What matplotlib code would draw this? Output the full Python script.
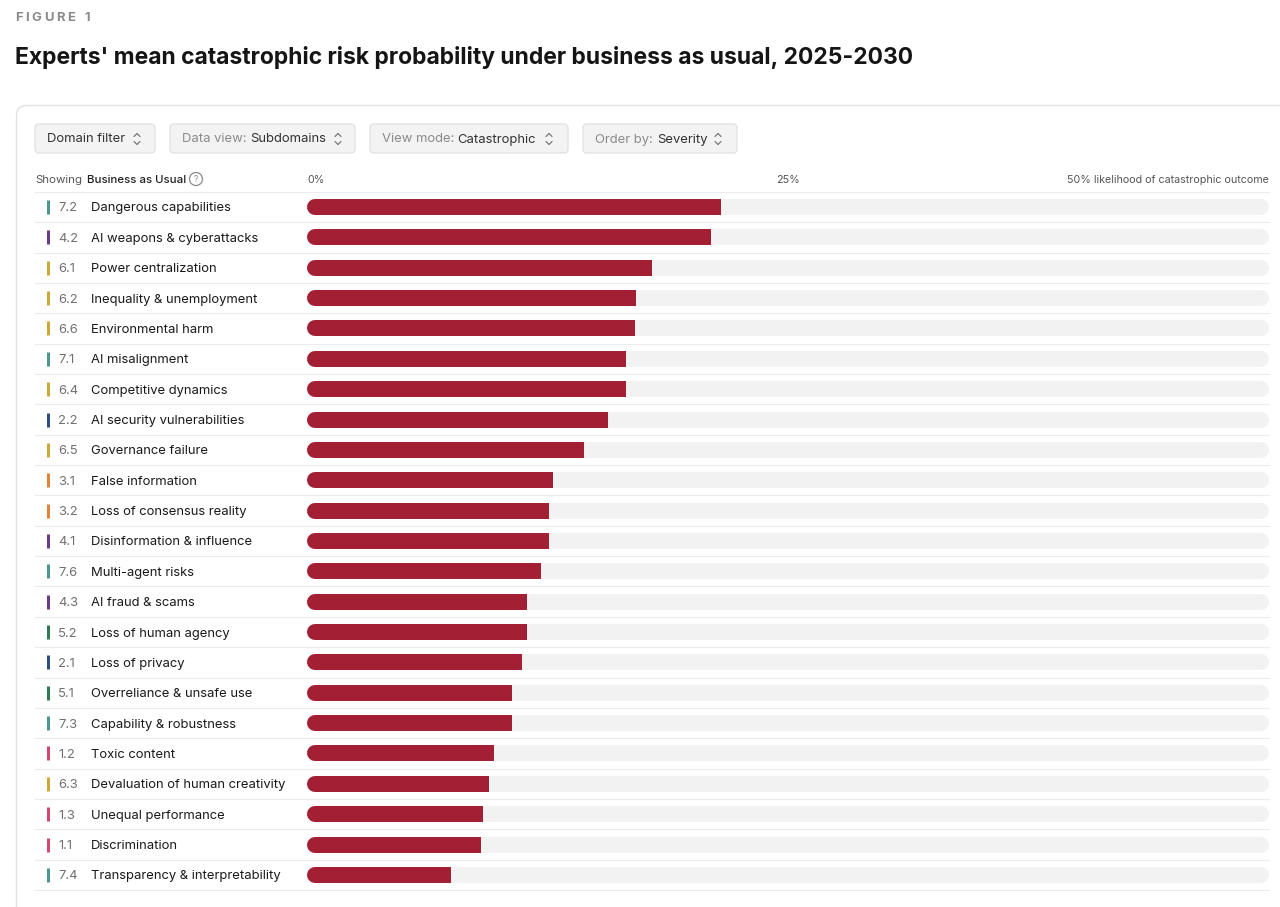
import matplotlib
matplotlib.use("Agg")
import matplotlib.pyplot as plt
import matplotlib.transforms as mtransforms
from matplotlib.patches import FancyBboxPatch, Circle

# ---------------- data ----------------
codes = ["7.2", "4.2", "6.1", "6.2", "6.6", "7.1", "6.4", "2.2", "6.5", "3.1", "3.2", "4.1",
         "7.6", "4.3", "5.2", "2.1", "5.1", "7.3", "1.2", "6.3", "1.3", "1.1", "7.4"]
names = ["Dangerous capabilities", "AI weapons & cyberattacks", "Power centralization",
         "Inequality & unemployment", "Environmental harm", "AI misalignment",
         "Competitive dynamics", "AI security vulnerabilities", "Governance failure",
         "False information", "Loss of consensus reality", "Disinformation & influence",
         "Multi-agent risks", "AI fraud & scams", "Loss of human agency", "Loss of privacy",
         "Overreliance & unsafe use", "Capability & robustness", "Toxic content",
         "Devaluation of human creativity", "Unequal performance", "Discrimination",
         "Transparency & interpretability"]
values = [21.5, 21.0, 17.95, 17.1, 17.05, 16.6, 16.6, 15.65, 14.4, 12.8, 12.6, 12.6,
          12.15, 11.45, 11.45, 11.15, 10.65, 10.65, 9.7, 9.45, 9.15, 9.05, 7.5]
x_max = 50
tick_labels = ["0%", "25%", "50% likelihood of catastrophic outcome"]
domain_colors = {"1": "#d4456f", "2": "#2c4f7f", "3": "#e0843a", "4": "#6b3a86",
                 "5": "#2f7a50", "6": "#cfa63a", "7": "#4b9893"}

title = "Experts' mean catastrophic risk probability under business as usual, 2025-2030"
BAR = "#a31f34"
TRACK = "#f2f2f2"
SEP = "#ececec"

W, H = 1280, 907
DPI = 100
fig = plt.figure(figsize=(W / DPI, H / DPI), dpi=DPI)
fig.patch.set_facecolor("white")
FONT = ["Inter", "DejaVu Sans"]
plt.rcParams["font.family"] = FONT

def pt(px):
    return px * 72.0 / DPI

# background / decoration axes in pixel coordinates
bg = fig.add_axes([0, 0, 1, 1])
bg.set_xlim(0, W)
bg.set_ylim(H, 0)
bg.axis("off")
renderer = fig.canvas.get_renderer()

# letter-spaced "FIGURE 1"
cx = 15.0
for ch in "FIGURE 1":
    t = bg.text(cx, 18, ch, fontsize=pt(13), fontweight="bold", color="#8a8a8a",
                va="center", ha="left")
    wpx = t.get_window_extent(renderer).width if ch != " " else 4.0
    cx += wpx + 2.6

bg.text(15, 57.5, title, fontsize=pt(22.9), fontweight="bold", color="#151515",
        va="center", ha="left")

# card
card = FancyBboxPatch((16.5, 105.5), 1400, 900, boxstyle="round,pad=0,rounding_size=10",
                      facecolor="white", edgecolor="#e2e2e2", linewidth=1.0)
bg.add_patch(card)

# filter buttons
buttons = [
    (35, 155, [("Domain filter", 47, "#333333")], 137),
    (170, 355, [("Data view:", 182, "#8a8a8a"), ("Subdomains", 250, "#333333")], 338),
    (370, 568, [("View mode:", 382, "#8a8a8a"), ("Catastrophic", 457, "#333333")], 549),
    (583, 737, [("Order by:", 595, "#8a8a8a"), ("Severity", 657, "#333333")], 718),
]
for x0, x1, parts, chev in buttons:
    b = FancyBboxPatch((x0, 124), x1 - x0, 29, boxstyle="round,pad=0,rounding_size=4",
                       facecolor="#f3f3f3", edgecolor="#e3e3e3", linewidth=1.0)
    bg.add_patch(b)
    for txt, tx, col in parts:
        bg.text(tx, 139.5, txt, fontsize=pt(13), color=col, va="center", ha="left")
    bg.plot([chev - 3, chev, chev + 3], [136.5, 133.5, 136.5], color="#777777", lw=0.9,
            solid_capstyle="round", solid_joinstyle="round")
    bg.plot([chev - 3, chev, chev + 3], [141.5, 144.5, 141.5], color="#777777", lw=0.9,
            solid_capstyle="round", solid_joinstyle="round")

# header row
bg.text(35, 180, "Showing", fontsize=pt(11.5), color="#555555", va="center", ha="left")
bg.text(87, 180, "Business as Usual", fontsize=pt(11.5), color="#222222", va="center",
        ha="left", fontweight="medium")
bg.add_patch(Circle((196, 179), 6.5, facecolor="none", edgecolor="#8a8a8a", lw=0.9))
bg.text(196, 179.5, "?", fontsize=pt(8.5), color="#8a8a8a", va="center", ha="center")

# bar axes
n = len(values)
row_h = 30.36
top = 207 - row_h / 2
bottom = top + n * row_h
left_px, right_px = 307, 1269
ax = fig.add_axes([left_px / W, 1 - bottom / H, (right_px - left_px) / W, (bottom - top) / H])
ax.set_xlim(0, x_max)
ax.set_ylim(n - 0.5, -0.5)
ax.axis("off")

px_per_unit = (right_px - left_px) / x_max
bar_px = 16
r = (bar_px / 2) / px_per_unit
bh = bar_px / row_h
ys = list(range(n))

# tick labels on top
tick_pos = [0, x_max / 2, x_max]
hdr_trans = mtransforms.blended_transform_factory(ax.transData, bg.transData)
for tp, tl, ha in zip(tick_pos, tick_labels, ["left", "center", "right"]):
    bg.text(tp, 180, tl, transform=hdr_trans, fontsize=pt(10.7), color="#555555",
            va="center", ha=ha)

# separators
for i in range(n + 1):
    y = i - 0.5
    ax.plot([-(left_px - 35) / px_per_unit, x_max], [y, y], color=SEP, lw=0.8,
            clip_on=False, zorder=0)

# track (rounded both ends)
ax.hlines(ys, r, x_max - r, colors=TRACK, linewidth=pt(bar_px), capstyle="round", zorder=1)
# value bars (rounded left via round-capped stub, square right via barh)
ax.hlines(ys, r, 2 * r, colors=BAR, linewidth=pt(bar_px), capstyle="round", zorder=2)
ax.barh(ys, [v - 1.5 * r for v in values], left=1.5 * r, height=bh, color=BAR, zorder=2,
        linewidth=0)

# row labels
dy = 1.5 / row_h
lab_trans = mtransforms.blended_transform_factory(bg.transData, ax.transData)
for i, (c, nm) in enumerate(zip(codes, names)):
    ax.plot([47.5, 47.5], [i - 0.23, i + 0.23], transform=lab_trans, color=domain_colors[c[0]],
            lw=pt(3), solid_capstyle="butt", clip_on=False)
    ax.text(58, i + dy, c, transform=lab_trans, fontsize=pt(13), color="#707070",
            va="center", ha="left", clip_on=False)
    ax.text(91, i + dy, nm, transform=lab_trans, fontsize=pt(13), color="#1a1a1a",
            va="center", ha="left", clip_on=False)

fig.savefig("out.png", dpi=DPI, facecolor="white")
